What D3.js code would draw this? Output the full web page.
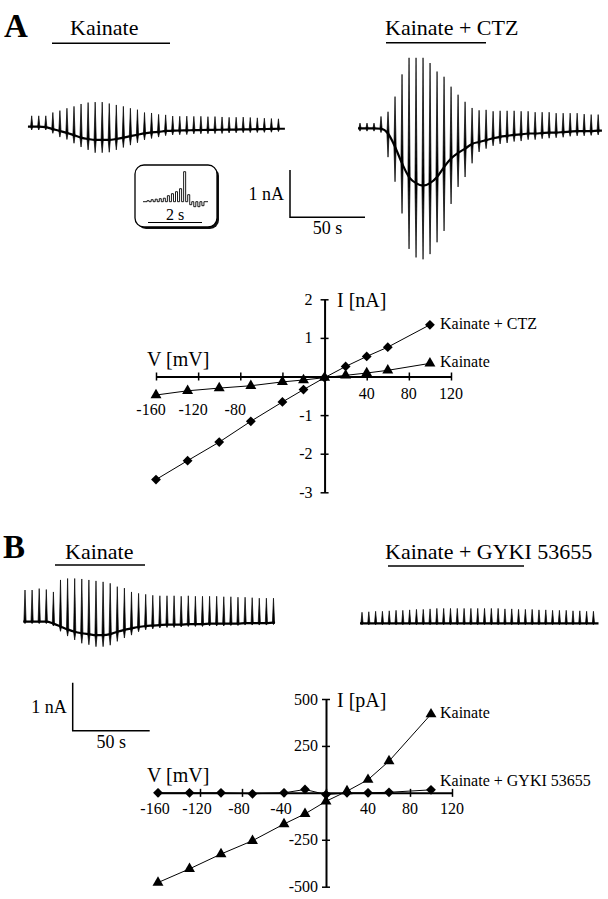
<!DOCTYPE html>
<html>
<head>
<meta charset="utf-8">
<script src="https://cdn.jsdelivr.net/npm/d3@7"></script>
<style>
  body { margin: 0; background: #fff; }
  svg { display: block; }
  text { font-family: "Liberation Serif", "Times New Roman", serif; fill: #000; }
</style>
</head>
<body>
<svg id="fig" width="608" height="899"></svg>
<script>
// ---- current traces (nA per sweep: holding-current shift, upward and downward excursions) ----
var aKaBase = [0, 0, -0.01, -0.05, -0.09, -0.13, -0.18, -0.23, -0.26, -0.28, -0.28, -0.28, -0.26, -0.23, -0.20, -0.17, -0.14, -0.12, -0.11, -0.09, -0.085, -0.08, -0.077, -0.072, -0.07, -0.068, -0.066, -0.064, -0.062, -0.06, -0.057, -0.055, -0.053, -0.05, -0.047, -0.043];
var aKaUp   = [0.23, 0.23, 0.24, 0.35, 0.43, 0.52, 0.61, 0.71, 0.77, 0.80, 0.80, 0.77, 0.72, 0.66, 0.59, 0.53, 0.44, 0.41, 0.37, 0.34, 0.31, 0.30, 0.30, 0.29, 0.29, 0.28, 0.28, 0.27, 0.26, 0.26, 0.26, 0.25, 0.24, 0.23, 0.22, 0.21];
var aKaDown = [0.07, 0.07, 0.06, 0.09, 0.13, 0.14, 0.17, 0.20, 0.23, 0.27, 0.27, 0.26, 0.23, 0.21, 0.19, 0.17, 0.14, 0.13, 0.11, 0.10, 0.09, 0.09, 0.09, 0.08, 0.08, 0.08, 0.08, 0.08, 0.07, 0.07, 0.07, 0.07, 0.07, 0.07, 0.07, 0.06];

var aCtzBase = [0, 0, 0, -0.01, -0.11, -0.39, -0.74, -1.03, -1.16, -1.21, -1.16, -1.03, -0.82, -0.64, -0.52, -0.43, -0.33, -0.29, -0.25, -0.21, -0.18, -0.16, -0.14, -0.13, -0.11, -0.11, -0.10, -0.09, -0.09, -0.08, -0.07, -0.06, -0.06, -0.06, -0.05];
var aCtzUp   = [0.11, 0.11, 0.11, 0.26, 0.46, 1.06, 1.88, 2.52, 2.65, 2.70, 2.54, 2.23, 1.91, 1.52, 1.23, 0.99, 0.76, 0.67, 0.64, 0.57, 0.55, 0.53, 0.51, 0.49, 0.47, 0.45, 0.44, 0.43, 0.41, 0.40, 0.39, 0.38, 0.36, 0.35, 0.34];
var aCtzDown = [0.06, 0.06, 0.06, 0.08, 0.50, 0.74, 1.06, 1.52, 1.57, 1.56, 1.50, 1.38, 1.35, 0.96, 0.72, 0.60, 0.41, 0.21, 0.18, 0.16, 0.15, 0.15, 0.14, 0.14, 0.13, 0.13, 0.12, 0.12, 0.11, 0.11, 0.10, 0.10, 0.10, 0.09, 0.09];

var bKaBase = [0, 0, 0, 0, -0.04, -0.10, -0.16, -0.21, -0.24, -0.26, -0.28, -0.28, -0.26, -0.21, -0.17, -0.14, -0.11, -0.09, -0.08, -0.07, -0.06, -0.06, -0.06, -0.05, -0.05, -0.05, -0.04, -0.04, -0.04, -0.04, -0.04, -0.03, -0.03, -0.03, -0.03, -0.02];
var bKaUp   = [0.66, 0.66, 0.69, 0.67, 0.66, 0.97, 1.06, 1.11, 1.13, 1.13, 1.13, 1.11, 1.06, 0.94, 0.87, 0.76, 0.70, 0.66, 0.63, 0.61, 0.60, 0.60, 0.59, 0.59, 0.58, 0.58, 0.57, 0.57, 0.56, 0.56, 0.55, 0.54, 0.53, 0.52, 0.52, 0.51];
var bKaDown = [0.04, 0.04, 0.04, 0.04, 0.05, 0.10, 0.14, 0.17, 0.21, 0.22, 0.24, 0.24, 0.23, 0.20, 0.17, 0.14, 0.10, 0.08, 0.07, 0.06, 0.06, 0.06, 0.05, 0.05, 0.05, 0.05, 0.05, 0.05, 0.05, 0.04, 0.04, 0.04, 0.04, 0.04, 0.04, 0.04];

var bGyBase = [0, 0, 0, 0, 0, 0, 0, 0, 0, 0, 0, 0, 0, 0, 0, 0, 0, 0, 0, 0, 0, 0, 0, 0, 0, 0, 0, 0, 0, 0, 0, 0, 0, 0, 0];
var bGyUp   = [0.23, 0.24, 0.25, 0.25, 0.26, 0.27, 0.27, 0.28, 0.29, 0.29, 0.30, 0.31, 0.31, 0.31, 0.31, 0.31, 0.31, 0.31, 0.31, 0.31, 0.31, 0.30, 0.30, 0.29, 0.29, 0.29, 0.28, 0.28, 0.27, 0.27, 0.27, 0.26, 0.26, 0.25, 0.25];
var bGyDown = [0.03, 0.03, 0.03, 0.03, 0.03, 0.03, 0.03, 0.03, 0.03, 0.03, 0.03, 0.03, 0.03, 0.03, 0.03, 0.03, 0.03, 0.03, 0.03, 0.03, 0.03, 0.03, 0.03, 0.03, 0.03, 0.03, 0.03, 0.03, 0.03, 0.03, 0.03, 0.03, 0.03, 0.03, 0.03];

// inset: one sweep of the step protocol (arbitrary units)
var insetSteps = [0, 0, 1, 0, 2, 0, 2.5, 0, 3, 0, 3.5, 0, 6, 0, 8, 0, 10, 0, 13, 0, 30, 0, 7, -3, 0, -5, 0, -5, 0, -4, 0, 0];

// ---- I-V relations ----
var ivVoltage  = [-160, -130, -100, -70, -40, -20, 0, 20, 40, 60, 100];
var ivAKainate = [-0.48, -0.37, -0.30, -0.24, -0.14, -0.09, -0.03, 0.03, 0.09, 0.16, 0.34];
var ivACtz     = [-2.67, -2.18, -1.70, -1.16, -0.66, -0.34, -0.03, 0.26, 0.52, 0.76, 1.34];
var ivBKainate = [-478, -405, -326, -255, -166, -112, -45, 9, 70, 169, 419];
var ivBGyki    = [0, 0, 0, -5, 0, 18, -9, 0, 0, 3, 16];

var xTicks   = [-160, -120, -80, -40, 0, 40, 80, 120];
var aXLabels = [-160, -120, -80, 40, 80, 120];
var aYTicks  = [-3, -2, -1, 0, 1, 2];
var aYLabels = [-3, -2, -1, 1, 2];
var bXLabels = [-160, -120, -80, -40, 40, 80, 120];
var bYTicks  = [-500, -250, 0, 250, 500];
var bYLabels = [-500, -250, 250, 500];

var svg = d3.select("#fig");

function label(txt, x, y, size, anchor, weight) {
  return svg.append("text").attr("x", x).attr("y", y)
    .attr("font-size", size).attr("text-anchor", anchor || "start")
    .attr("font-weight", weight || "normal").text(txt);
}

function hline(x1, x2, y, w) {
  svg.append("line").attr("x1", x1).attr("x2", x2).attr("y1", y).attr("y2", y)
    .attr("stroke", "#000").attr("stroke-width", w || 1.5);
}

// draw a chart-recorder trace: holding current line + one spindle per sweep
function drawTrace(cfg) {
  var g = svg.append("g");
  var tx = d3.scaleLinear().domain([0, 50]).range([cfg.x0, cfg.x0 + 50 * cfg.pxPerS]);
  var ty = d3.scaleLinear().domain([0, 1]).range([cfg.y0, cfg.y0 - cfg.pxPerNA]);
  var sweeps = cfg.base.map(function(b, i) {
    return {t: i * cfg.interval, b: b, up: cfg.up[i], down: cfg.down[i]};
  });
  var last = sweeps[sweeps.length - 1];
  var pts = [{t: -cfg.lead, b: sweeps[0].b}].concat(sweeps, [{t: last.t + cfg.tail, b: last.b}]);

  g.append("path")
    .attr("d", d3.line().x(function(d) { return tx(d.t); }).y(function(d) { return ty(d.b); })
      .curve(d3.curveMonotoneX)(pts))
    .attr("fill", "none").attr("stroke", "#000").attr("stroke-width", 2.2);

  g.selectAll(".spike").data(sweeps).enter().append("path")
    .attr("class", "spike")
    .attr("d", function(d) {
      var x = tx(d.t), hw = 1.1;
      return "M" + x + "," + ty(d.b + d.up) + "L" + (x + hw) + "," + ty(d.b) +
             "L" + x + "," + ty(d.b - d.down) + "L" + (x - hw) + "," + ty(d.b) + "Z";
    })
    .attr("fill", "#000").attr("stroke", "#000").attr("stroke-width", 0.7)
    .attr("stroke-linejoin", "round");
}

function drawScaleBar(x0, y0, pxPerS, pxPerNA, fs) {
  var bx = d3.scaleLinear().domain([0, 50]).range([x0, x0 + 50 * pxPerS]);
  var by = d3.scaleLinear().domain([0, 1]).range([y0, y0 - pxPerNA]);
  svg.append("path")
    .attr("d", "M" + bx(0) + "," + by(1) + "V" + by(0) + "H" + bx(50))
    .attr("fill", "none").attr("stroke", "#000").attr("stroke-width", 1.5);
  label("1 nA", bx(0) - 6, by(0.5) + 6, fs, "end");
  label("50 s", bx(25), by(0) + 17, fs, "middle");
}

function drawIV(o) {
  var g = svg.append("g");
  var x = o.x, y = o.y;

  var gx = g.append("g").attr("transform", "translate(0," + y(0) + ")")
    .call(d3.axisBottom(x).tickValues(xTicks).tickSize(4).tickSizeOuter(0).tickFormat(""));
  gx.select(".domain").attr("stroke-width", 2);
  gx.selectAll(".tick line").attr("y1", -4).attr("y2", 4).attr("stroke-width", 1.5);

  var gy = g.append("g").attr("transform", "translate(" + x(0) + ",0)")
    .call(d3.axisLeft(y).tickValues(o.yTicks).tickSize(4).tickSizeOuter(0).tickFormat(""));
  gy.select(".domain").attr("stroke-width", 2);
  gy.selectAll(".tick line").attr("x1", -4).attr("x2", 4).attr("stroke-width", 1.5);

  o.xLabels.forEach(function(v) {
    var neg = v < 0;
    label(String(v), x(v) - (neg ? o.negShift : 0), y(0) + (neg ? o.negDy : o.posDy), 16, "middle");
  });
  o.yLabels.forEach(function(v) {
    label(String(v), x(0) - o.yLabelGap, y(v) + 5.5, 16, "end");
  });

  label("V [mV]", 147, y(0) - 11, 20);
  label(o.yTitle, 337, o.yTitleY, 20);

  o.series.forEach(function(s) {
    var pts = ivVoltage.map(function(v, i) { return [v, s.values[i]]; });
    g.append("path")
      .attr("d", d3.line().x(function(d) { return x(d[0]); }).y(function(d) { return y(d[1]); })(pts))
      .attr("fill", "none").attr("stroke", "#000").attr("stroke-width", 1);
    g.selectAll(null).data(pts).enter().append("path")
      .attr("d", d3.symbol().type(s.diamond ? d3.symbolSquare : d3.symbolTriangle).size(s.diamond ? 48 : 52))
      .attr("transform", function(d) {
        return "translate(" + x(d[0]) + "," + y(d[1]) + ")" + (s.diamond ? " rotate(45)" : "");
      })
      .attr("fill", "#000");
    label(s.name, 440, s.labelY, 16);
  });
}

// ================= Panel A =================
label("A", 4, 37, 33, "start", "bold");
label("Kainate", 70, 35, 22);
hline(52, 170, 43.3);
label("Kainate + CTZ", 385, 35, 22);
hline(386, 486, 42.7);

drawTrace({x0: 31.7, y0: 126.7, pxPerS: 1.5, pxPerNA: 47.3, interval: 4.7, lead: 2.5, tail: 4.3,
           base: aKaBase, up: aKaUp, down: aKaDown});
drawTrace({x0: 360, y0: 128.3, pxPerS: 1.5, pxPerNA: 47.3, interval: 4.67, lead: 1.3, tail: 2.5,
           base: aCtzBase, up: aCtzUp, down: aCtzDown});

// inset sweep
svg.append("rect").attr("x", 137).attr("y", 167).attr("width", 82).attr("height", 62)
  .attr("rx", 9).attr("fill", "#111");
svg.append("rect").attr("x", 135).attr("y", 165).attr("width", 82).attr("height", 62)
  .attr("rx", 9).attr("fill", "#fff").attr("stroke", "#000").attr("stroke-width", 1.3);
var ix = d3.scaleLinear().domain([0, insetSteps.length]).range([143, 208]);
var iy = d3.scaleLinear().domain([0, 30]).range([201.7, 171.7]);
svg.append("path")
  .attr("d", d3.line().x(function(d, i) { return ix(i); }).y(function(d) { return iy(d); })
    .curve(d3.curveStepAfter)(insetSteps.concat([0])))
  .attr("fill", "none").attr("stroke", "#000").attr("stroke-width", 0.9);
label("2 s", 175, 220, 16, "middle");
hline(148, 202, 222.5, 1.2);

drawScaleBar(290, 217.3, 1.5, 47.3, 18);

drawIV({
  x: d3.scaleLinear().domain([-160, 120]).range([156, 451]),
  y: d3.scaleLinear().domain([-3, 2]).range([492.3, 299.3]),
  yTicks: aYTicks, xLabels: aXLabels, yLabels: aYLabels,
  negShift: 5, negDy: 38, posDy: 22.6, yLabelGap: 12,
  yTitle: "I [nA]", yTitleY: 306.7,
  series: [
    {name: "Kainate + CTZ", values: ivACtz, diamond: true, labelY: 328.5},
    {name: "Kainate", values: ivAKainate, diamond: false, labelY: 367}
  ]
});

// ================= Panel B =================
label("B", 3, 558, 33, "start", "bold");
label("Kainate", 65, 559, 22);
hline(55, 145, 565);
label("Kainate + GYKI 53655", 385, 559, 22);
hline(388, 524, 566);

drawTrace({x0: 25, y0: 621.7, pxPerS: 1.54, pxPerNA: 48, interval: 4.61, lead: 1.1, tail: 1,
           base: bKaBase, up: bKaUp, down: bKaDown});
drawTrace({x0: 362, y0: 623.3, pxPerS: 1.54, pxPerNA: 48, interval: 4.42, lead: 1.3, tail: 3.3,
           base: bGyBase, up: bGyUp, down: bGyDown});

drawScaleBar(72.7, 730.7, 1.54, 48, 18);

drawIV({
  x: d3.scaleLinear().domain([-160, 120]).range([158, 452]),
  y: d3.scaleLinear().domain([-500, 500]).range([886.7, 699]),
  yTicks: bYTicks, xLabels: bXLabels, yLabels: bYLabels,
  negShift: 3, negDy: 21, posDy: 21, yLabelGap: 8,
  yTitle: "I [pA]", yTitleY: 706.7,
  series: [
    {name: "Kainate", values: ivBKainate, diamond: false, labelY: 718},
    {name: "Kainate + GYKI 53655", values: ivBGyki, diamond: true, labelY: 786}
  ]
});
</script>
</body>
</html>
